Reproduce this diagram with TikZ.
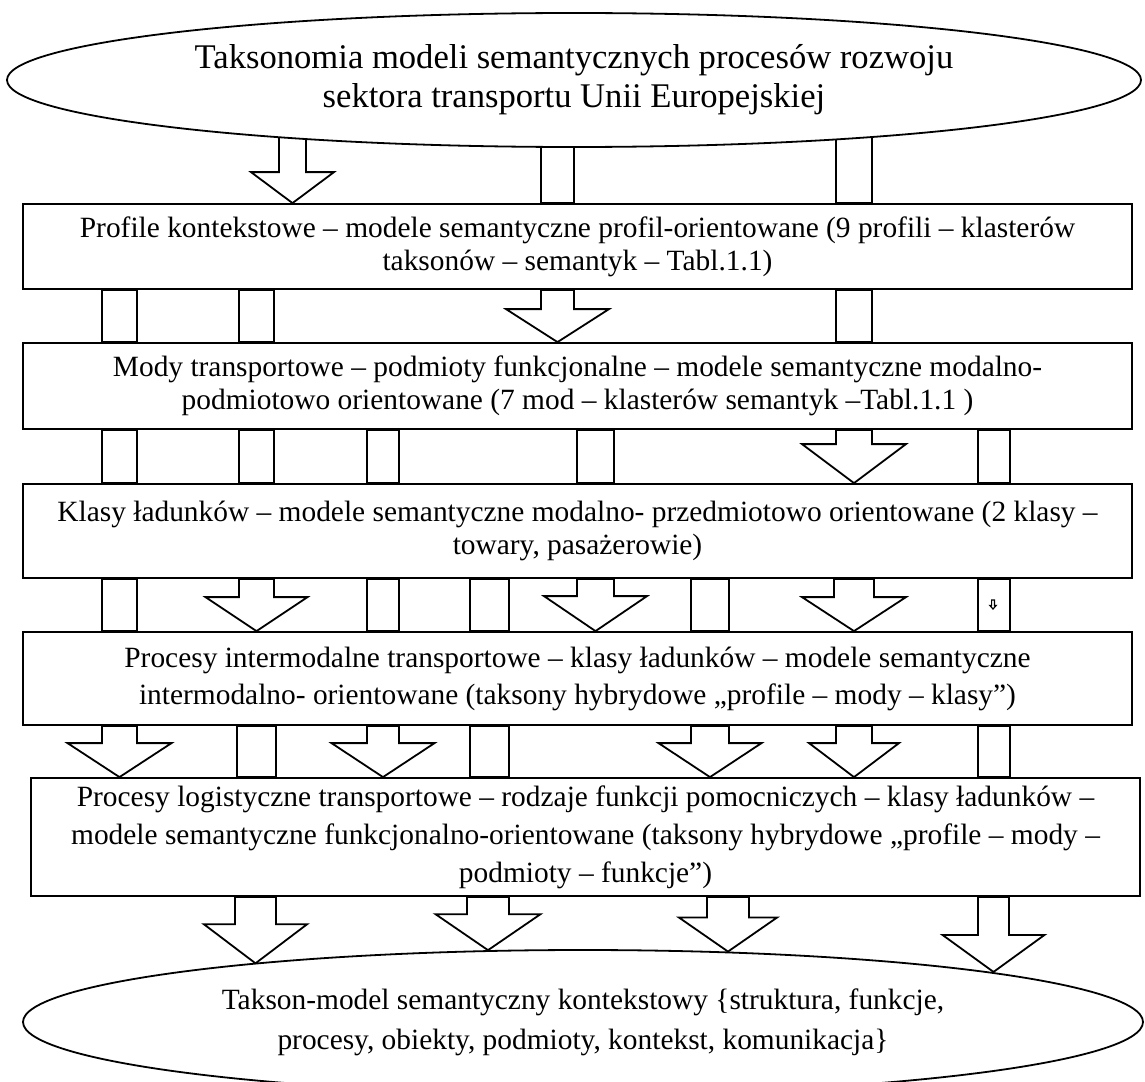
\documentclass[tikz,border=0pt]{standalone}
\usepackage{fontspec}
\setmainfont{Liberation Serif}
\usepackage{tikz}
\usetikzlibrary{shapes.geometric,calc}
\pgfdeclarelayer{background}
\pgfsetlayers{background,main}

% wide hollow arrow: [opts] x, shaft half width, head half width, head height, from, to
\newcommand{\blockarrow}[7][]{%
  \draw[block arrow,#1] let \p1=(#2,0 |- #6), \p2=(#2,0 |- #7) in
    (\x1-#3,\y1) -- (\x1-#3,\y2+#5) -- (\x1-#4,\y2+#5) -- (\x2,\y2)
    -- (\x1+#4,\y2+#5) -- (\x1+#3,\y2+#5) -- (\x1+#3,\y1) -- cycle;}

\begin{document}
\begin{tikzpicture}[x=0.5pt, y=-0.5pt]
    \tikzstyle{box} = [rectangle, draw=black, line width=0.9pt, fill=white, inner sep=0pt, minimum width=554.5pt, align=center, font=\fontsize{14.7}{16.5}\selectfont]
    \tikzstyle{oval} = [ellipse, draw=black, line width=0.9pt, fill=white, inner sep=0pt, align=center]
    \tikzstyle{block arrow} = [draw=black, line width=0.9pt, fill=white, line join=miter]
    \tikzstyle{link bar} = [draw=black, line width=0.9pt]
\useasboundingbox (0,0) rectangle (1145,1081);
\node[oval, minimum width=567pt, minimum height=67pt, font=\fontsize{17.3}{19.5}\selectfont] (top) at (574,80) {Taksonomia modeli semantycznych procesów rozwoju\\sektora transportu Unii Europejskiej};
\node[box, minimum height=42.5pt] (box1) at (577.5,246.5) {Profile kontekstowe – modele semantyczne profil-orientowane (9 profili – klasterów\\taksonów – semantyk – Tabl.1.1)};
\node[box, minimum height=43pt] (box2) at (577.5,386) {Mody transportowe – podmioty funkcjonalne – modele semantyczne modalno-\\podmiotowo orientowane (7 mod – klasterów semantyk –Tabl.1.1 )};
\node[box, minimum height=47pt] (box3) at (577.5,531) {Klasy ładunków – modele semantyczne modalno- przedmiotowo orientowane (2 klasy –\\towary, pasażerowie)};
\node[box, minimum height=46.5pt, font=\fontsize{14.7}{18.5}\selectfont] (box4) at (577.5,678.5) {Procesy intermodalne transportowe – klasy ładunków – modele semantyczne\\intermodalno- orientowane (taksony hybrydowe „profile – mody – klasy”)};
\node[box, minimum height=59pt, font=\fontsize{14.7}{19}\selectfont] (box5) at (585.5,837) {Procesy logistyczne transportowe – rodzaje funkcji pomocniczych – klasy ładunków –\\modele semantyczne funkcjonalno-orientowane (taksony hybrydowe „profile – mody –\\podmioty – funkcje”)};
\node[oval, minimum width=560pt, minimum height=72pt, font=\fontsize{14.7}{20}\selectfont] (bot) at (583,1022) {Takson-model semantyczny kontekstowy \{struktura, funkcje,\\procesy, obiekty, podmioty, kontekst, komunikacja\}};

\begin{pgfonlayer}{background}
% top -> box1
\blockarrow{292.5}{6.75pt}{20.75pt}{15.5pt}{top.center}{box1.north}
\draw[link bar] (541,0 |- top.center) rectangle (574,0 |- box1.north);
\draw[link bar] (836,0 |- top.center) rectangle (872,0 |- box1.north);
% box1 -> box2
\draw[link bar] (102,0 |- box1.south) rectangle (137,0 |- box2.north);
\draw[link bar] (239,0 |- box1.south) rectangle (274,0 |- box2.north);
\blockarrow{557.5}{8.25pt}{25.75pt}{16.5pt}{box1.south}{box2.north}
\draw[link bar] (836,0 |- box1.south) rectangle (872,0 |- box2.north);
% box2 -> box3
\draw[link bar] (102,0 |- box2.south) rectangle (137,0 |- box3.north);
\draw[link bar] (239,0 |- box2.south) rectangle (274,0 |- box3.north);
\draw[link bar] (367,0 |- box2.south) rectangle (399,0 |- box3.north);
\draw[link bar] (577,0 |- box2.south) rectangle (614,0 |- box3.north);
\blockarrow{854}{9pt}{26pt}{19.5pt}{box2.south}{box3.north}
\draw[link bar] (978,0 |- box2.south) rectangle (1010,0 |- box3.north);
% box3 -> box4
\draw[link bar] (102,0 |- box3.south) rectangle (137,0 |- box4.north);
\blockarrow{256.5}{8.75pt}{25.5pt}{17pt}{box3.south}{box4.north}
\draw[link bar] (367,0 |- box3.south) rectangle (399,0 |- box4.north);
\draw[link bar] (470,0 |- box3.south) rectangle (509,0 |- box4.north);
\blockarrow{595.5}{9.25pt}{25.75pt}{17.5pt}{box3.south}{box4.north}
\draw[link bar] (691,0 |- box3.south) rectangle (729,0 |- box4.north);
\blockarrow{854}{10pt}{26pt}{17pt}{box3.south}{box4.north}
\draw[link bar] (978,0 |- box3.south) rectangle (1010,0 |- box4.north);
\blockarrow[line width=0.6pt]{993}{0.7pt}{1.6pt}{1.8pt}{993,600}{993,609}
% box4 -> box5
\blockarrow{119.5}{8.75pt}{26pt}{17pt}{box4.south}{box5.north}
\draw[link bar] (237,0 |- box4.south) rectangle (276,0 |- box5.north);
\blockarrow{383}{8pt}{25.75pt}{17pt}{box4.south}{box5.north}
\draw[link bar] (470,0 |- box4.south) rectangle (509,0 |- box5.north);
\blockarrow{710}{9.5pt}{25.75pt}{17pt}{box4.south}{box5.north}
\blockarrow{854}{9pt}{22.5pt}{17pt}{box4.south}{box5.north}
\draw[link bar] (978,0 |- box4.south) rectangle (1010,0 |- box5.north);
% box5 -> bot
\blockarrow{255.5}{10.25pt}{25.75pt}{19.5pt}{box5.south}{bot.170}
\blockarrow{488}{10.5pt}{26.25pt}{18pt}{box5.south}{bot.143}
\blockarrow{728}{10.5pt}{24.5pt}{17pt}{box5.south}{bot.26}
\blockarrow{993.5}{7.75pt}{25.5pt}{18.5pt}{box5.south}{bot.7}
\end{pgfonlayer}
\end{tikzpicture}
\end{document}
